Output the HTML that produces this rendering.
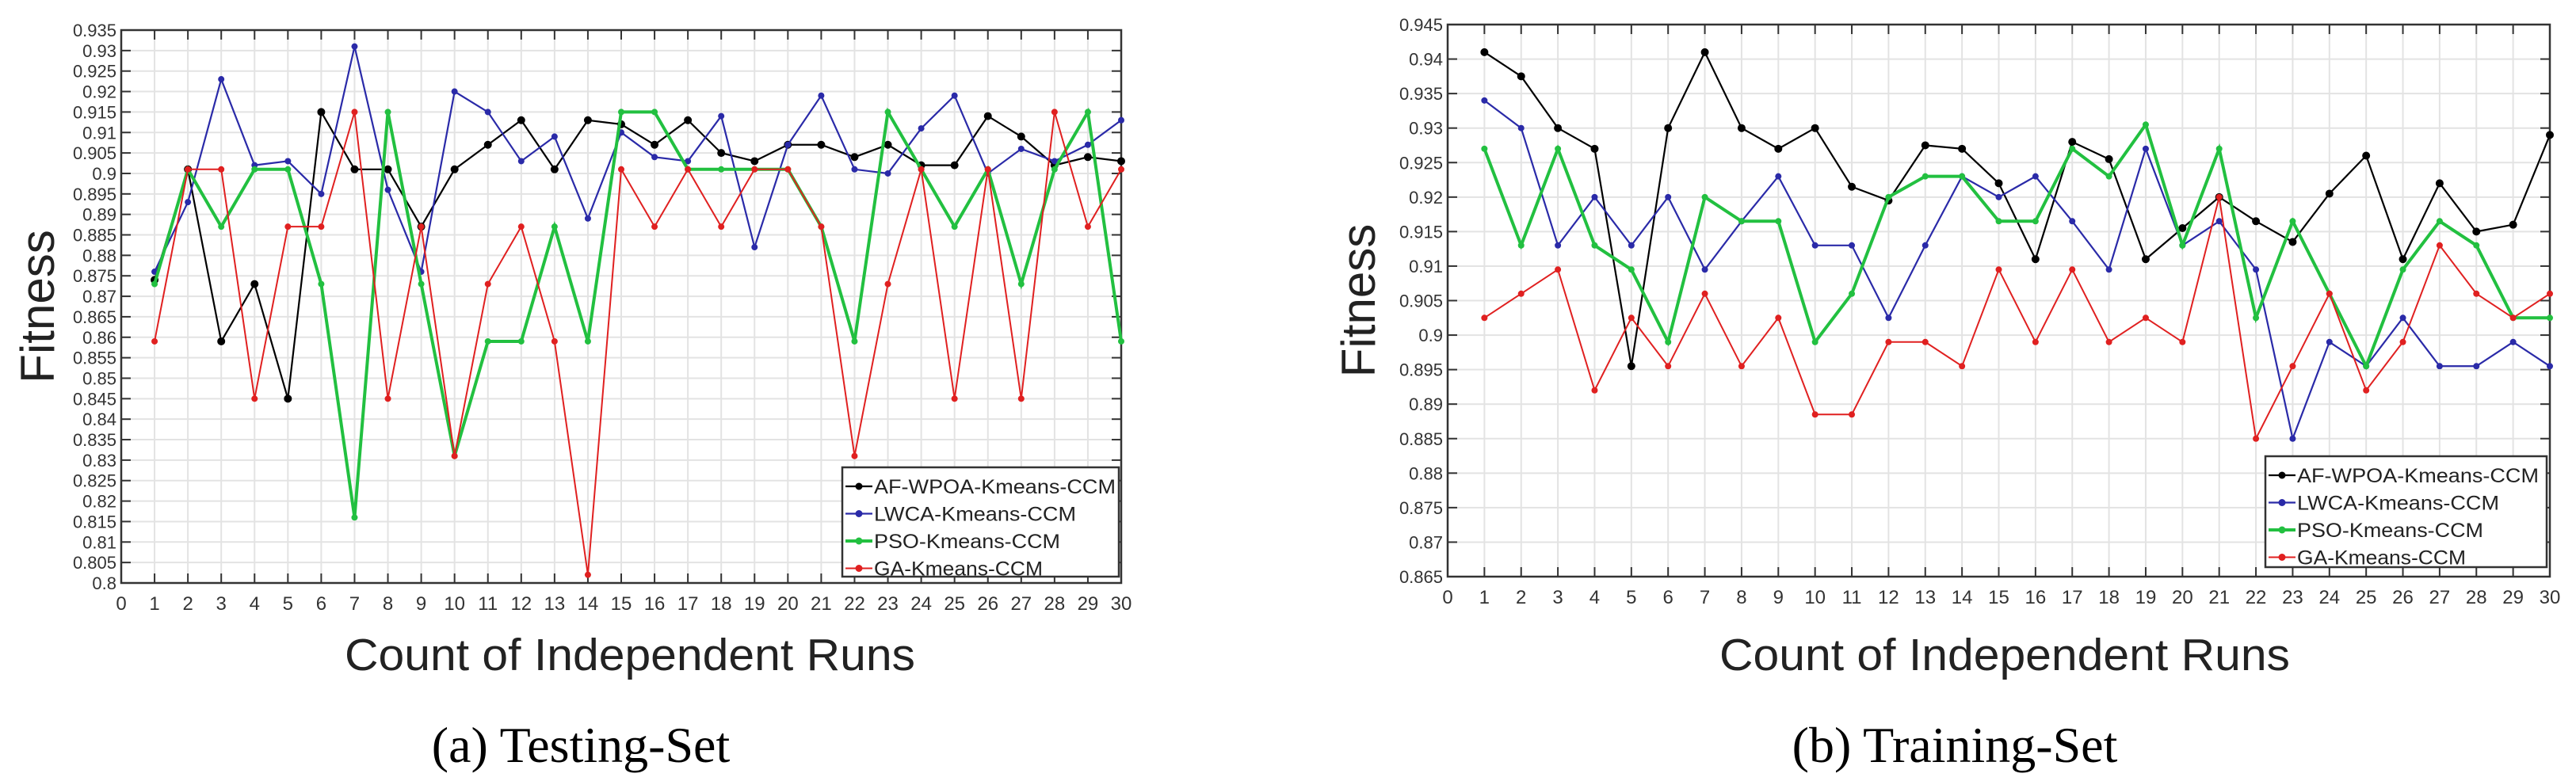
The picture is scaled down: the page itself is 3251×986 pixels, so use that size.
<!DOCTYPE html>
<html><head><meta charset="utf-8"><style>
body{margin:0;background:#fff;width:3251px;height:986px;overflow:hidden}
svg{display:block}
text{font-family:"Liberation Sans",sans-serif}
</style></head><body>
<svg id="svg" width="3251" height="986" xmlns="http://www.w3.org/2000/svg"></svg>
<script>
const runs = [1,2,3,4,5,6,7,8,9,10,11,12,13,14,15,16,17,18,19,20,21,22,23,24,25,26,27,28,29,30];
const seriesNames = ["AF-WPOA-Kmeans-CCM","LWCA-Kmeans-CCM","PSO-Kmeans-CCM","GA-Kmeans-CCM"];
const testAF = [0.874,0.901,0.859,0.873,0.845,0.915,0.901,0.901,0.887,0.901,0.907,0.913,0.901,0.913,0.912,0.907,0.913,0.905,0.903,0.907,0.907,0.904,0.907,0.902,0.902,0.914,0.909,0.902,0.904,0.903];
const testLW = [0.876,0.893,0.923,0.902,0.903,0.895,0.931,0.896,0.876,0.920,0.915,0.903,0.909,0.889,0.910,0.904,0.903,0.914,0.882,0.907,0.919,0.901,0.900,0.911,0.919,0.900,0.906,0.903,0.907,0.913];
const testPSO = [0.873,0.901,0.887,0.901,0.901,0.873,0.816,0.915,0.873,0.831,0.859,0.859,0.887,0.859,0.915,0.915,0.901,0.901,0.901,0.901,0.887,0.859,0.915,0.901,0.887,0.901,0.873,0.901,0.915,0.859];
const testGA = [0.859,0.901,0.901,0.845,0.887,0.887,0.915,0.845,0.887,0.831,0.873,0.887,0.859,0.802,0.901,0.887,0.901,0.887,0.901,0.901,0.887,0.831,0.873,0.901,0.845,0.901,0.845,0.915,0.887,0.901];
const trainAF = [0.941,0.9375,0.930,0.927,0.8955,0.930,0.941,0.930,0.927,0.930,0.9215,0.9195,0.9275,0.927,0.922,0.911,0.928,0.9255,0.911,0.9155,0.920,0.9165,0.9135,0.9205,0.926,0.911,0.922,0.915,0.916,0.929];
const trainLW = [0.934,0.930,0.913,0.920,0.913,0.920,0.9095,0.9165,0.923,0.913,0.913,0.9025,0.913,0.923,0.920,0.923,0.9165,0.9095,0.927,0.913,0.9165,0.9095,0.885,0.899,0.8955,0.9025,0.8955,0.8955,0.899,0.8955];
const trainPSO = [0.927,0.913,0.927,0.913,0.9095,0.899,0.920,0.9165,0.9165,0.899,0.906,0.920,0.923,0.923,0.9165,0.9165,0.927,0.923,0.9305,0.913,0.927,0.9025,0.9165,0.906,0.8955,0.9095,0.9165,0.913,0.9025,0.9025];
const trainGA = [0.9025,0.906,0.9095,0.892,0.9025,0.8955,0.906,0.8955,0.9025,0.8885,0.8885,0.899,0.899,0.8955,0.9095,0.899,0.9095,0.899,0.9025,0.899,0.920,0.885,0.8955,0.906,0.892,0.899,0.913,0.906,0.9025,0.906];
const testYTicks = ["0.8","0.805","0.81","0.815","0.82","0.825","0.83","0.835","0.84","0.845","0.85","0.855","0.86","0.865","0.87","0.875","0.88","0.885","0.89","0.895","0.9","0.905","0.91","0.915","0.92","0.925","0.93","0.935"];
const trainYTicks = ["0.865","0.87","0.875","0.88","0.885","0.89","0.895","0.9","0.905","0.91","0.915","0.92","0.925","0.93","0.935","0.94","0.945"];
const xTicks = ["0","1","2","3","4","5","6","7","8","9","10","11","12","13","14","15","16","17","18","19","20","21","22","23","24","25","26","27","28","29","30"];

const NS="http://www.w3.org/2000/svg";
const svg=document.getElementById('svg');
function mk(tag,attrs,parent){const e=document.createElementNS(NS,tag);for(const k in attrs)e.setAttribute(k,attrs[k]);(parent||svg).appendChild(e);return e;}
const colors=["#000000","#2a2aa8","#22c040","#e02020"];
const widths=[2.2,2.2,4,2];

function chart(cfg){
  const g=mk('g',{});
  
  
  const {x0,x1,y0,y1,ymin,ymax}=cfg;
  const sx=v=>x0+(v-0)/30*(x1-x0);
  const sy=v=>y1-(v-ymin)/(ymax-ymin)*(y1-y0);
  // grid
  const grid=mk('g',{},g);
  
  
  xTicks.forEach(t=>{const x=sx(+t);mk('line',{x1:x,x2:x,y1:y0,y2:y1,stroke:'#e3e3e3','stroke-width':2},grid);});
  cfg.yticks.forEach(t=>{const y=sy(+t);mk('line',{x1:x0,x2:x1,y1:y,y2:y,stroke:'#e3e3e3','stroke-width':2},grid);});
  // ticks
  xTicks.forEach(t=>{const x=sx(+t);
    mk('line',{x1:x,x2:x,y1:y1,y2:y1-12,stroke:'#333','stroke-width':2},g);
    mk('line',{x1:x,x2:x,y1:y0,y2:y0+12,stroke:'#333','stroke-width':2},g);
    const tx=mk('text',{x:x,y:y1+34,'text-anchor':'middle','font-size':24,fill:'#333'},g);
    
    
    tx.textContent=t;});
  cfg.yticks.forEach(t=>{const y=sy(+t);
    mk('line',{x1:x0,x2:x0+12,y1:y,y2:y,stroke:'#333','stroke-width':2},g);
    mk('line',{x1:x1,x2:x1-12,y1:y,y2:y,stroke:'#333','stroke-width':2},g);
    const tx=mk('text',{x:x0-6,y:y+8,'text-anchor':'end','font-size':22,fill:'#333'},g);
    
    
    tx.textContent=t;});
  const box=mk('rect',{x:x0,y:y0,width:x1-x0,height:y1-y0,fill:'none',stroke:'#333','stroke-width':2.5},g);
  
  
  // series
  cfg.series.forEach((s,i)=>{
    const sg=mk('g',{},g);
    
    
    const pts=s.map((v,j)=>sx(runs[j])+','+sy(v)).join(' ');
    mk('polyline',{points:pts,fill:'none',stroke:colors[i],'stroke-width':widths[i]},sg);
    s.forEach((v,j)=>{const c=mk('circle',{cx:sx(runs[j]),cy:sy(v),r:i==0?5:4,fill:colors[i]},sg);
      
      });
  });
  // legend
  const L=cfg.legend;
  const lg=mk('g',{},g);
  
  
  mk('rect',{x:L.x,y:L.y,width:L.w,height:L.h,fill:'#fff',stroke:'#333','stroke-width':2.5},lg);
  seriesNames.forEach((n,i)=>{const yy=L.y+24+i*34.5;
    const e=mk('g',{},lg);
    
    
    mk('line',{x1:L.x+4,x2:L.x+38,y1:yy,y2:yy,stroke:colors[i],'stroke-width':widths[i]},e);
    mk('circle',{cx:L.x+21,cy:yy,r:4.5,fill:colors[i]},e);
    const t=mk('text',{x:L.x+40,y:yy+9,'font-size':25,fill:'#222',textLength:L.tl[i],lengthAdjust:'spacingAndGlyphs'},e);
    t.textContent=n;});
  // titles
  const yt=mk('text',{x:0,y:0,'font-size':60,fill:'#222','text-anchor':'middle',transform:`translate(${cfg.ytx},${(y0+y1)/2}) rotate(-90)`},g);
  
  
  yt.textContent='Fitness';
  const xt=mk('text',{x:cfg.xtx,y:846,'font-size':57,fill:'#222','text-anchor':'middle',textLength:720,lengthAdjust:'spacingAndGlyphs'},g);
  
  
  xt.textContent='Count of Independent Runs';
  const cp=mk('text',{x:cfg.cpx,y:962,'font-size':64,fill:'#000','text-anchor':'middle',style:'font-family:"Liberation Serif",serif'},g);
  
  
  cp.textContent=cfg.caption;
}
chart({name:'testing-set-chart',x0:153,x1:1415,y0:38,y1:736,ymin:0.8,ymax:0.935,yticks:testYTicks,
  series:[testAF,testLW,testPSO,testGA],legend:{x:1063,y:590,w:349,h:138,tl:[305,255,235,213]},
  ytx:68,xtx:795,cpx:733,caption:'(a) Testing-Set'});
chart({name:'training-set-chart',x0:1827,x1:3218,y0:31,y1:728,ymin:0.865,ymax:0.945,yticks:trainYTicks,
  series:[trainAF,trainLW,trainPSO,trainGA],legend:{x:2859,y:576,w:355,h:140,tl:[305,255,235,213]},
  ytx:1735,xtx:2530,cpx:2467,caption:'(b) Training-Set'});
</script>
</body></html>
